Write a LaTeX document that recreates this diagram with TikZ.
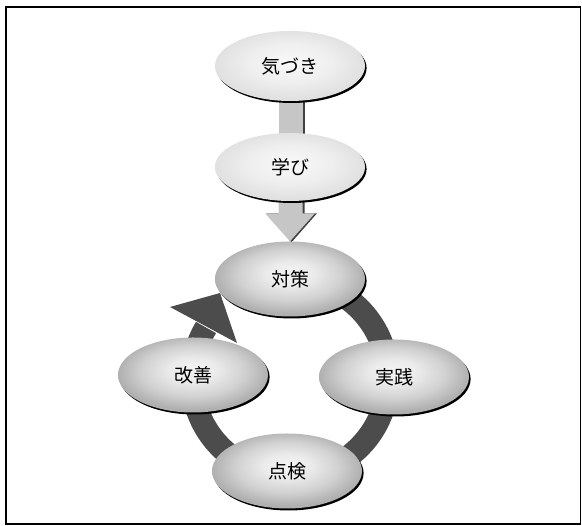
\documentclass[tikz,border=0pt]{standalone}
\usepackage{fontspec}
\setmainfont{Noto Sans CJK JP}
\usetikzlibrary{shapes.geometric,shadows,backgrounds,calc}
\pgfdeclareradialshading{ballshade}{\pgfpoint{0bp}{4bp}}{color(0bp)=(gray!8); color(8bp)=(gray!16); color(17bp)=(gray!36); color(25bp)=(gray!62); color(50bp)=(gray!62)}
\pgfdeclareradialshading{lightshade}{\pgfpoint{0bp}{3bp}}{color(0bp)=(gray!5); color(14bp)=(gray!13); color(25bp)=(gray!24); color(50bp)=(gray!24)}
\tikzset{
  blob/.style={ellipse, inner sep=0pt, minimum width=150pt, minimum height=75pt,
    font=\fontsize{19pt}{19pt}\selectfont,
    general shadow={fill=black, shadow xshift=1.6pt, shadow yshift=-2pt}},
  lightblob/.style={blob, shading=lightshade},
  darkblob/.style={blob, shading=ballshade},
  ring/.style={draw=black!70, line width=23pt},
  ringhead/.style={fill=black!70},
  flowbar/.style={fill=gray!45},
  flowedge/.style={fill=black!75},
  frame/.style={draw=black, line width=1.2pt}
}
\begin{document}
\begin{tikzpicture}[x=1pt,y=1pt]
\useasboundingbox (0,0) rectangle (582,526);
\draw[frame] (6,2) rectangle (580.5,519);

% cycle ring (behind the nodes)
\coordinate (ringc) at (290,148);
\draw[ring] ($(ringc)+(80:98)$) arc[start angle=80, end angle=-211, radius=98];
\coordinate (hl) at (170,219);
\coordinate (ht) at (220,233);
\coordinate (hr) at (237,183);
\fill[ringhead] (hl) -- (ht) -- (hr) -- cycle;

% nodes
\node[lightblob, minimum height=70pt] (kizuki) at (290,460) {気づき};
\node[lightblob, minimum height=68pt] (manabi) at (290,359) {学び};
\node[darkblob] (taisaku) at (290,247) {対策};
\node[darkblob] (kaizen) at (193,151) {改善};
\node[darkblob] (jissen) at (394,149) {実践};
\node[darkblob] (tenken) at (287,55) {点検};

\begin{scope}[on background layer]
  % bar from kizuki to manabi
  \fill[flowedge] ($(kizuki.center)+(-10.5,0)$) rectangle ($(manabi.center)+(14.5,0)$);
  \fill[flowbar] ($(kizuki.center)+(-11.5,0)$) rectangle ($(manabi.center)+(12.5,0)$);
  % arrow from manabi to taisaku
  \fill[flowedge] ($(manabi.center)+(-10.5,0)$) -- ($(taisaku.north)+(-10.5,28)$)
     -- ($(taisaku.north)+(-23,28)$) -- ($(taisaku.north)+(1.5,-1)$)
     -- ($(taisaku.north)+(27,28)$) -- ($(taisaku.north)+(14.5,28)$)
     -- ($(manabi.center)+(14.5,0)$) -- cycle;
  \fill[flowbar] ($(manabi.center)+(-11.5,0)$) -- ($(taisaku.north)+(-11.5,28)$)
     -- ($(taisaku.north)+(-25,28)$) -- (taisaku.north)
     -- ($(taisaku.north)+(25,28)$) -- ($(taisaku.north)+(12.5,28)$)
     -- ($(manabi.center)+(12.5,0)$) -- cycle;
\end{scope}
\end{tikzpicture}
\end{document}
